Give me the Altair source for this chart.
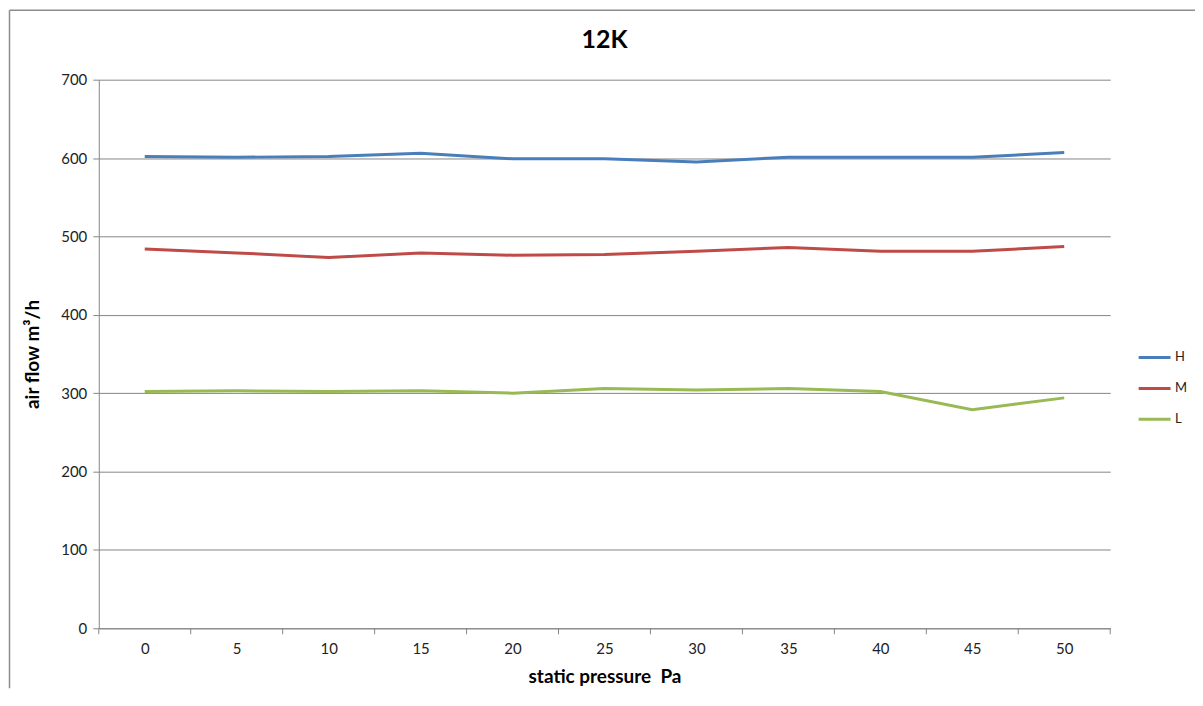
import altair as alt
import pandas as pd

pressure = [0, 5, 10, 15, 20, 25, 30, 35, 40, 45, 50]
H = [602, 601, 602, 606, 599, 599, 595, 601, 601, 601, 607]
M = [484, 479, 473, 479, 476, 477, 481, 486, 481, 481, 487]
L = [302, 303, 302, 303, 300, 306, 304, 306, 302, 279, 294]
series_names = ["H", "M", "L"]
series_colors = ["#4A7EBB", "#BE4B48", "#98B954"]
y_ticks = [0, 100, 200, 300, 400, 500, 600, 700]
x_tick_marks = [-2.5, 2.5, 7.5, 12.5, 17.5, 22.5, 27.5, 32.5, 37.5, 42.5, 47.5, 52.5]

rows = []
for name, vals in zip(series_names, [H, M, L]):
    for p, v in zip(pressure, vals):
        rows.append({"pressure": p, "flow": v, "series": name})
df = pd.DataFrame(rows)
ticks_df = pd.DataFrame({"t": x_tick_marks})

FONT = "Lato"
GRID = "#868686"
W, H_ = 1014, 550
PAD_B = 60

xscale = alt.Scale(domain=[-2.5, 52.5], nice=False, zero=False)
yscale = alt.Scale(domain=[0, 700], nice=False)

lines = alt.Chart(df).mark_line(strokeWidth=3).encode(
    x=alt.X("pressure:Q", scale=xscale,
            axis=alt.Axis(values=pressure, grid=False, ticks=False, domain=True,
                          domainColor=GRID, labelPadding=13, labelFontSize=15,
                          labelColor="#222222", title="static pressure\u00a0\u00a0Pa",
                          titleFontSize=19, titleFontWeight="bold", titlePadding=11,
                          titleColor="#000000")),
    y=alt.Y("flow:Q", scale=yscale,
            axis=alt.Axis(values=y_ticks, grid=True, gridColor=GRID, domainColor=GRID,
                          tickColor=GRID, tickSize=6, labelPadding=6, labelFontSize=15,
                          labelColor="#222222", title="air flow m³/h",
                          titleFontSize=19, titleFontWeight="bold", titlePadding=18,
                          titleColor="#000000")),
    color=alt.Color("series:N", scale=alt.Scale(domain=series_names, range=series_colors),
                    legend=alt.Legend(title=None, orient="none", legendX=1041, legendY=261,
                                      symbolType="stroke", symbolStrokeWidth=3,
                                      symbolSize=1024, labelFontSize=13, rowPadding=6,
                                      labelColor="#222222", labelOffset=3)),
)

tick_marks = alt.Chart(ticks_df).mark_rule(color=GRID, strokeWidth=1).encode(
    x=alt.X("t:Q", scale=xscale),
    y=alt.value(H_),
    y2=alt.value(H_ + 6),
)

border_left = alt.Chart(ticks_df.head(1)).mark_rule(color="#8c8c8c", strokeWidth=1.5).encode(
    x=alt.value(-89.5), y=alt.value(-69.5), y2=alt.value(H_ + PAD_B)
)
border_top = alt.Chart(ticks_df.head(1)).mark_rule(color="#8c8c8c", strokeWidth=1.5).encode(
    x=alt.value(-89.5), x2=alt.value(W + 85), y=alt.value(-69.5)
)

chart = alt.layer(border_left, border_top, tick_marks, lines).properties(
    width=W, height=H_,
    title=alt.TitleParams("12K", fontSize=25, fontWeight="bold", font=FONT,
                          anchor="middle", offset=-43, color="#000000"),
    autosize=alt.AutoSizeParams(type="none"),
    padding={"left": 91, "top": 71, "right": 85, "bottom": PAD_B},
).configure(font=FONT).configure_view(stroke=None)

chart.save("out.html", embed_options={"renderer": "svg", "actions": False})
